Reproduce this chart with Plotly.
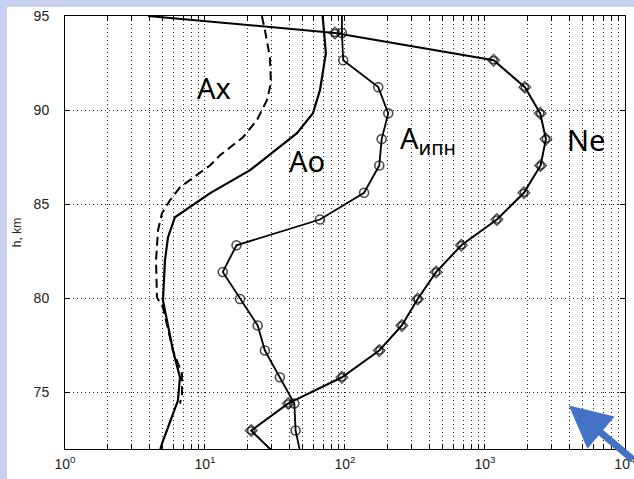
import numpy as np
import plotly.graph_objects as go

# ---------------- data ----------------
# Ne profile (markers on inner points; first/last points only extend the line)
ne_h = [95.0, 94.10, 92.65, 91.22, 89.83, 88.46, 87.06, 85.61, 84.19, 82.82,
        81.40, 79.97, 78.56, 77.23, 75.81, 74.42, 72.98, 71.9]
ne_x = [3.92, 84.8, 1154, 1931, 2483, 2728, 2500, 1900, 1218, 679,
        448, 331, 255, 176, 95.2, 39.4, 21.4, 30.1]

# A_ипн profile
aipn_h = [95.0, 94.10, 92.65, 91.22, 89.83, 88.46, 87.06, 85.61, 84.19, 82.82,
          81.40, 79.97, 78.56, 77.23, 75.81, 74.42, 72.98, 71.9]
aipn_x = [95.2, 95.2, 97.2, 173, 204, 183, 176, 137, 66.3, 16.8,
          13.4, 17.8, 23.8, 26.8, 34.3, 43.5, 44.4, 47.7]

# Ao profile (solid)
ao_h = [95.0, 93.03, 91.06, 89.84, 88.78, 87.5, 86.81, 85.59, 85.21, 84.31,
        83.24, 82.02, 79.89, 77.23, 75.8, 74.57, 72.29, 71.9]
ao_x = [69.3, 73.1, 66.3, 59.1, 45.4, 27.7, 21.0, 10.9, 9.2, 6.1,
        5.44, 5.18, 5.01, 5.91, 6.63, 6.41, 4.93, 4.77]

# Ax profile (dashed)
ax_h = [95.0, 94.26, 92.82, 91.44, 90.53, 89.47, 88.56, 87.6, 87.07, 85.9,
        85.21, 84.52, 83.62, 82.02, 80.05, 79.52, 77.23, 76.01, 74.84, 74.41]
ax_x = [25.5, 26.8, 29.1, 29.6, 27.7, 23.5, 18.7, 12.8, 10.9, 6.63,
        5.62, 4.93, 4.62, 4.47, 4.54, 5.01, 5.91, 6.85, 6.85, 6.63]

y_ticks = [75, 80, 85, 90, 95]
decades = [0, 1, 2, 3, 4]
curve_labels = ["Ax", "Ao", "A<sub>ипн</sub>", "Ne"]

# ---------------- figure ----------------
W, H = 634, 479
L, R, T, B = 65, 9, 16, 30
pw, ph = W - L - R, H - T - B

fig = go.Figure()

def msize(n, s):
    return [0] + [s] * (n - 2) + [0]

fig.add_trace(go.Scatter(x=ax_x, y=ax_h, mode="lines",
                         line=dict(color="black", width=2, dash="9px,5px")))
fig.add_trace(go.Scatter(x=ao_x, y=ao_h, mode="lines",
                         line=dict(color="black", width=2.2)))
fig.add_trace(go.Scatter(x=aipn_x, y=aipn_h, mode="lines+markers",
                         line=dict(color="black", width=1.8),
                         marker=dict(symbol="circle-open", size=msize(len(aipn_x), 9),
                                     color="black", line=dict(width=1.6))))
fig.add_trace(go.Scatter(x=ne_x, y=ne_h, mode="lines+markers",
                         line=dict(color="black", width=2),
                         marker=dict(symbol="circle-open", size=msize(len(ne_x), 7),
                                     color="black", line=dict(width=1.5))))
fig.add_trace(go.Scatter(x=ne_x, y=ne_h, mode="markers",
                         marker=dict(symbol="diamond-open", size=msize(len(ne_x), 9),
                                     color="black", line=dict(width=1.3))))

# x ticks: every 1..9 per decade (grid), label only powers of ten
xt_vals, xt_text = [], []
for d in decades:
    for m in range(1, 10):
        if d == decades[-1] and m > 1:
            break
        xt_vals.append(m * 10 ** d)
        xt_text.append(f"10<sup>{d}</sup>" if m == 1 else "")

grid = dict(showgrid=True, gridcolor="#222", gridwidth=1, griddash="1px,3px")
axis_common = dict(showline=True, linecolor="black", linewidth=1, mirror="ticks",
                   ticks="inside", ticklen=5, tickcolor="black", zeroline=False,
                   ticklabeloverflow="allow", automargin=False,
                   tickfont=dict(family="Liberation Sans, Arial", size=14, color="#222"))

fig.update_xaxes(type="log", range=[0, 4.001], tickmode="array", tickvals=xt_vals,
                 ticktext=xt_text, ticklabelstandoff=2, **grid, **axis_common)
fig.update_yaxes(range=[72, 95], tickmode="array", tickvals=y_ticks,
                 ticklabelstandoff=12,
                 title=dict(text="h, km", font=dict(family="Liberation Sans, Arial",
                                                    size=12, color="#222"), standoff=9),
                 **grid, **axis_common)

# white panel on lavender background
def px2paper_x(px):
    return (px - L) / pw

def py2paper_y(py):
    return (T + ph - py) / ph

fig.add_shape(type="rect", xref="paper", yref="paper", layer="below",
              x0=px2paper_x(7), x1=px2paper_x(W + 5), y0=py2paper_y(H + 5), y1=py2paper_y(7),
              fillcolor="white", line=dict(width=0))

# curve labels (x in log10 units for a log axis)
label_pos = [(1.064, 91.22, "center"), (1.729, 87.34, "center"),
             (2.379, 88.45, "left"), (3.721, 88.46, "center")]
for txt, (lx, ly, anc) in zip(curve_labels, label_pos):
    fig.add_annotation(x=lx, y=ly, xref="x", yref="y", text=txt, showarrow=False,
                       xanchor=anc, yanchor="middle",
                       font=dict(family="Noto Sans", size=29, color="black"))

# blue arrow
fig.add_annotation(x=3.6, y=74.31, xref="x", yref="y", text="", showarrow=True,
                   ax=85, ay=55, arrowcolor="#4472C4", arrowwidth=7, arrowhead=2,
                   arrowsize=1.2, standoff=0)

fig.update_layout(width=W, height=H, margin=dict(l=L, r=R, t=T, b=B),
                  paper_bgcolor="#c9d1f0", plot_bgcolor="white", showlegend=False)

fig.write_html("out.html")
